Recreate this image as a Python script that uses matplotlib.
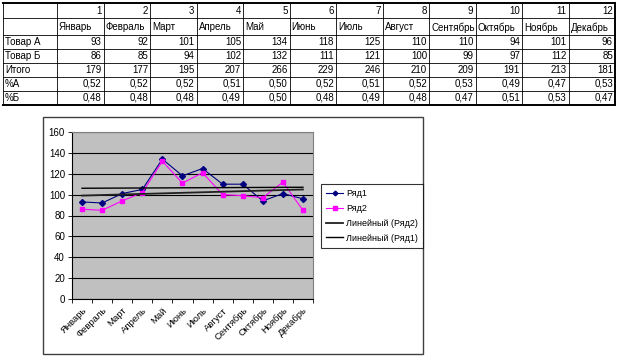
import numpy as np
import matplotlib
matplotlib.use('Agg')
import matplotlib.pyplot as plt
from matplotlib.patches import Rectangle

plt.rcParams['font.family'] = ['Liberation Sans', 'DejaVu Sans']

months = ['Январь', 'Февраль', 'Март', 'Апрель', 'Май', 'Июнь', 'Июль',
          'Август', 'Сентябрь', 'Октябрь', 'Ноябрь', 'Декабрь']
col_numbers = list(range(1, 13))
goods_a = [93, 92, 101, 105, 134, 118, 125, 110, 110, 94, 101, 96]
goods_b = [86, 85, 94, 102, 132, 111, 121, 100, 99, 97, 112, 85]
total = [179, 177, 195, 207, 266, 229, 246, 210, 209, 191, 213, 181]
pct_a = [0.52, 0.52, 0.52, 0.51, 0.50, 0.52, 0.51, 0.52, 0.53, 0.49, 0.47, 0.53]
pct_b = [0.48, 0.48, 0.48, 0.49, 0.50, 0.48, 0.49, 0.48, 0.47, 0.51, 0.53, 0.47]
row_names = ['Товар А', 'Товар Б', 'Итого', '%А', '%Б']
y_ticks = [0, 20, 40, 60, 80, 100, 120, 140, 160]

W, H = 620, 361
fig = plt.figure(figsize=(W / 100, H / 100), dpi=100)

# ---- spreadsheet table (pixel coordinates) ----
bg = fig.add_axes([0, 0, 1, 1])
bg.set_xlim(0, W)
bg.set_ylim(H, 0)
bg.axis('off')

col_edges = [3, 57] + [57 + (615 - 57) / 12 * (i + 1) for i in range(12)]
row_edges = [3, 18, 35, 49, 63, 77, 91, 105]

for x in col_edges:
    lw = 1.4 if x == col_edges[-1] else 0.6
    bg.plot([x, x], [row_edges[0], row_edges[-1]], color='black', lw=lw)
for y in row_edges:
    lw = 1.4 if y in (row_edges[0], row_edges[-1]) else 0.6
    bg.plot([col_edges[0], col_edges[-1]], [y, y], color='black', lw=lw)


def fmt(v):
    return ('%.2f' % v).replace('.', ',')


rows = [goods_a, goods_b, total, [fmt(v) for v in pct_a], [fmt(v) for v in pct_b]]
fs = 7
for j in range(12):
    x0, x1 = col_edges[j + 1], col_edges[j + 2]
    yc = (row_edges[0] + row_edges[1]) / 2
    bg.text(x1 - 2, yc, str(col_numbers[j]), ha='right', va='center', fontsize=fs)
    yc = (row_edges[1] + row_edges[2]) / 2 + 1
    bg.text(x0 + 2, yc, months[j], ha='left', va='center', fontsize=fs)
    for r, vals in enumerate(rows):
        yc = (row_edges[r + 2] + row_edges[r + 3]) / 2
        bg.text(x1 - 2, yc, str(vals[j]), ha='right', va='center', fontsize=fs)
for r, name in enumerate(row_names):
    yc = (row_edges[r + 2] + row_edges[r + 3]) / 2
    bg.text(col_edges[0] + 2, yc, name, ha='left', va='center', fontsize=fs)

# chart frame
bg.add_patch(Rectangle((43, 117), 380, 237, fill=False, ec='#404040', lw=1.0))

# ---- chart ----
ax = fig.add_axes([72 / W, 1 - 299 / H, 241 / W, 167 / H])
ax.set_facecolor('#C0C0C0')
x = np.arange(1, 13)

ax.plot(x, goods_a, color='#000080', marker='D', ms=3, lw=0.8, label='Ряд1')
ax.plot(x, goods_b, color='#FF00FF', marker='s', ms=3.5, lw=0.8, label='Ряд2')

# linear trendlines as in Excel
kb, bb = np.polyfit(x, goods_b, 1)
ka, ba = np.polyfit(x, goods_a, 1)
ax.plot(x, kb * x + bb, color='#202020', lw=1.3, label='Линейный (Ряд2)')
ax.plot(x, ka * x + ba, color='black', lw=1.0, label='Линейный (Ряд1)')

ax.set_xlim(0.5, 12.5)
ax.set_ylim(0, 160)
ax.set_yticks(y_ticks)
ax.yaxis.grid(True, color='black', lw=0.8)
ax.set_axisbelow(True)
ax.tick_params(axis='y', labelsize=7, length=3, width=0.6, pad=2)

ax.set_xticks(np.arange(0.5, 13, 1))
ax.set_xticklabels([])
ax.set_xticks(x, minor=True)
ax.set_xticklabels(months, minor=True, rotation=45, ha='right',
                   rotation_mode='anchor', fontsize=6.8)
ax.tick_params(axis='x', which='major', length=3, width=0.6)
ax.tick_params(axis='x', which='minor', length=0, pad=5)

for s in ('left', 'bottom'):
    ax.spines[s].set_color('black')
    ax.spines[s].set_linewidth(0.8)
for s in ('top', 'right'):
    ax.spines[s].set_color('#808080')
    ax.spines[s].set_linewidth(0.8)

leg = ax.legend(loc='upper left', bbox_to_anchor=(321 / W, 1 - 184 / H),
                bbox_transform=fig.transFigure, fontsize=6.5, frameon=True,
                fancybox=False, edgecolor='black', borderpad=0.55,
                borderaxespad=0, handlelength=1.9, labelspacing=0.65,
                handletextpad=0.3, markerscale=0.8)
leg.get_frame().set_linewidth(0.8)

fig.savefig('out.png', dpi=100)
